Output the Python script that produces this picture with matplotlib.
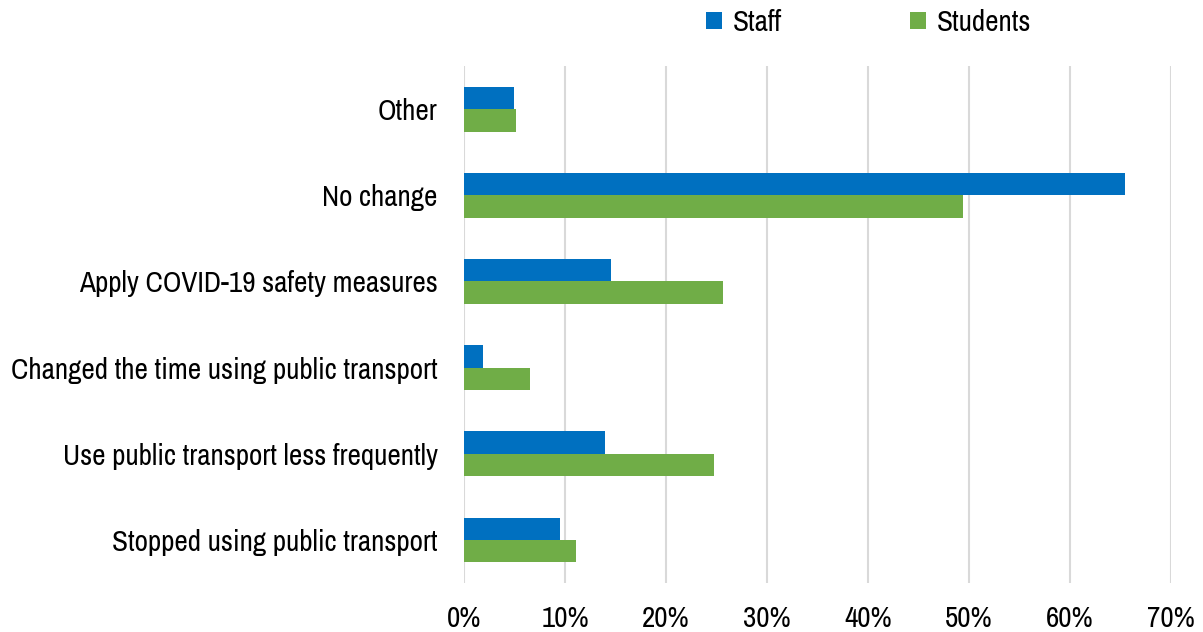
import numpy as np
import matplotlib.pyplot as plt
from matplotlib.ticker import FuncFormatter

# survey answers, listed top to bottom as drawn
categories = ["Other",
              "No change",
              "Apply COVID-19 safety measures",
              "Changed the time using public transport",
              "Use public transport less frequently",
              "Stopped using public transport"]
staff = [5.0, 65.4, 14.6, 1.9, 14.0, 9.5]
students = [5.1, 49.4, 25.6, 6.5, 24.8, 11.1]
series_names = ["Staff", "Students"]

plt.rcParams['font.family'] = ['Archivo Narrow', 'Liberation Sans', 'DejaVu Sans']

fig = plt.figure(figsize=(12.03, 6.32), dpi=100)
ax = fig.add_axes([0.3857, 0.0775, 0.5877, 0.818])

y = np.arange(len(categories))
h = 0.26
ax.barh(y - h/2, staff, height=h, color='#0070C0', label=series_names[0], zorder=3)
ax.barh(y + h/2, students, height=h, color='#70AD47', label=series_names[1], zorder=3)

ax.set_ylim(len(categories) - 0.5, -0.5)
ax.set_xlim(0, 70)
ax.set_xticks(np.arange(0, 71, 10))
ax.xaxis.set_major_formatter(FuncFormatter(lambda v, p: '%d%%' % v))
ax.set_yticks(y)
ax.set_yticklabels(categories)

ax.grid(axis='x', color='#D9D9D9', lw=1.5, zorder=0)
ax.tick_params(axis='x', length=0, pad=16, labelsize=21)
ax.tick_params(axis='y', length=0, pad=19, labelsize=21)
for s in ax.spines.values():
    s.set_visible(False)

fig.legend(loc='center', bbox_to_anchor=(0.722, 0.965), ncol=2, frameon=False,
           fontsize=21, handlelength=0.55, handleheight=0.55, handletextpad=0.35,
           columnspacing=4.4)

plt.savefig('out.png', dpi=100)
